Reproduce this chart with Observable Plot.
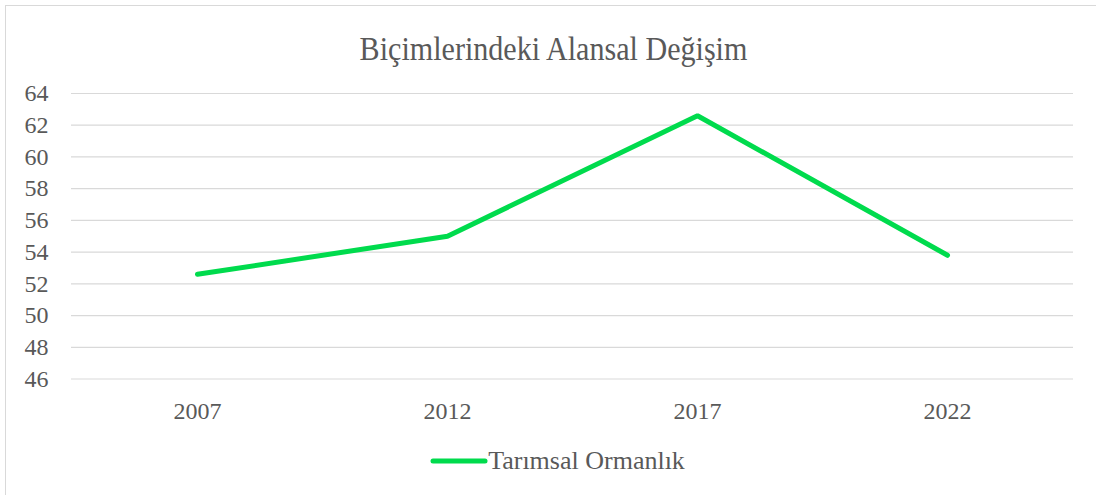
<!DOCTYPE html>
<html>
<head>
<meta charset="utf-8">
<script src="https://cdn.jsdelivr.net/npm/d3@7"></script>
<script src="https://cdn.jsdelivr.net/npm/@observablehq/plot@0.6"></script>
<style>
  html, body { margin: 0; padding: 0; background: #fff; }
  body { width: 1096px; height: 495px; position: relative; overflow: hidden; font-family: "Liberation Serif", serif; }
  #frame { position: absolute; left: 5px; top: 5px; width: 1100px; height: 500px; border: 1px solid #d9d9d9; box-sizing: border-box; }
  #title { position: absolute; left: 0; top: 29px; width: 1107px; text-align: center; font-size: 34px; line-height: 40px; color: #595959; transform: scaleX(0.885); transform-origin: 553.5px 0; white-space: nowrap; }
  #chart { position: absolute; left: 0; top: 72px; }
  #chart svg text { font-family: "Liberation Serif", serif; }
  #legend { position: absolute; left: 0; top: 444px; width: 1115px; display: flex; justify-content: center; align-items: center; font-size: 26px; line-height: 34px; color: #595959; }
  #legend svg { margin-right: 0px; }
</style>
</head>
<body>
<div id="frame"></div>
<div id="title">Biçimlerindeki Alansal Değişim</div>
<div id="chart"></div>
<div id="legend"></div>
<script>
const years = ["2007", "2012", "2017", "2022"];
const values = [52.6, 55.0, 62.6, 53.8];
const yTicks = [46, 48, 50, 52, 54, 56, 58, 60, 62, 64];
const seriesName = "Tarımsal Ormanlık";
const lineColor = "#00db4d";

const data = years.map((y, i) => ({year: y, value: values[i]}));

const chart = Plot.plot({
  width: 1096,
  height: 360,
  marginLeft: 71,
  marginRight: 23,
  marginTop: 21,
  marginBottom: 53.5,
  style: {fontFamily: "'Liberation Serif', serif", fontSize: "24px", color: "#595959", background: "transparent"},
  x: {type: "point", domain: years, padding: 0.5, label: null},
  y: {domain: [46, 64], ticks: yTicks, label: null},
  marks: [
    Plot.gridY(yTicks, {stroke: "#d9d9d9", strokeOpacity: 1, strokeWidth: 1.2}),
    Plot.axisY(yTicks, {tickSize: 0, tickPadding: 23, fontSize: 24, fill: "#595959"}),
    Plot.axisX({tickSize: 0, tickPadding: 23, fontSize: 24, fill: "#595959"}),
    Plot.line(data, {x: "year", y: "value", stroke: lineColor, strokeWidth: 5, strokeLinecap: "round", strokeLinejoin: "miter"})
  ]
});
document.getElementById("chart").appendChild(chart);

const legend = document.getElementById("legend");
legend.innerHTML = `<svg width="58" height="12"><line x1="3" y1="6" x2="55" y2="6" stroke="${lineColor}" stroke-width="5" stroke-linecap="round"/></svg><span>${seriesName}</span>`;
</script>
</body>
</html>
